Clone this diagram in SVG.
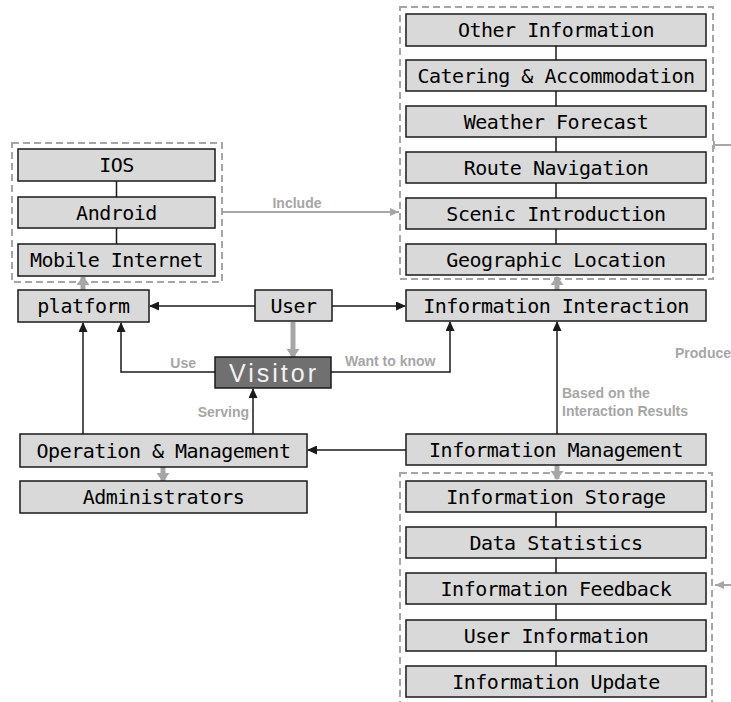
<svg xmlns="http://www.w3.org/2000/svg" width="731" height="702" viewBox="0 0 731 702">
  <style>
    .box { fill: #d9d9d9; stroke: #1a1a1a; stroke-width: 1.5; }
    .dark { fill: #707070; stroke: #1a1a1a; stroke-width: 1.5; }
    .grp { fill: none; stroke: #a6a6a6; stroke-width: 2; stroke-dasharray: 7 4; }
    .t { font-family: "DejaVu Sans Mono", "Liberation Mono", monospace; font-size: 20px; letter-spacing: -0.5px; fill: #000; text-anchor: middle; }
    .tv { font-family: "Liberation Sans", Arial, sans-serif; font-size: 25px; fill: #f2f2f2; text-anchor: middle; letter-spacing: 3px; }
    .lbl { font-family: "Liberation Sans", Arial, sans-serif; font-size: 14px; font-weight: bold; fill: #a6a6a6; }
    .ln { fill: none; stroke: #1a1a1a; stroke-width: 1.5; }
    .arr { fill: none; stroke: #1a1a1a; stroke-width: 1.5; marker-end: url(#ah); }
    .garr { fill: none; stroke: #a6a6a6; stroke-width: 5; marker-end: url(#gah); }
    .gthin { fill: none; stroke: #a6a6a6; stroke-width: 2; }
  </style>
  <defs>
    <marker id="ah" markerUnits="userSpaceOnUse" markerWidth="10" markerHeight="9" refX="9" refY="4.5" orient="auto">
      <path d="M0,0 L10,4.5 L0,9 z" fill="#1a1a1a"/>
    </marker>
    <marker id="gah" markerUnits="userSpaceOnUse" markerWidth="9" markerHeight="13" refX="8" refY="6.5" orient="auto">
      <path d="M0,0 L9,6.5 L0,13 z" fill="#a6a6a6"/>
    </marker>
    <marker id="gthinah" markerUnits="userSpaceOnUse" markerWidth="10" markerHeight="10" refX="9" refY="5" orient="auto">
      <path d="M0,1 L9,5 L0,9 z" fill="#a6a6a6"/>
    </marker>
  </defs>

  <!-- dashed groupings -->
  <g id="groups">
    <rect class="grp" x="12" y="143" width="210" height="139"/>
    <rect class="grp" x="400" y="7" width="313" height="272"/>
    <rect class="grp" x="400" y="473" width="312" height="240"/>
  </g>

  <!-- connectors -->
  <g id="connectors">
    <!-- stack links -->
    <path class="ln" d="M116.5,181 V197 M116.5,228 V244"/>
    <path class="ln" d="M556,46 V60 M556,91 V106 M556,137 V152 M556,183 V198 M556,229 V244"/>
    <path class="ln" d="M556,512 V527 M556,558 V573 M556,604 V620 M556,651 V666"/>
    <!-- black arrows -->
    <path class="arr" d="M255,306 H150"/>
    <path class="arr" d="M332,306 H405"/>
    <path class="arr" d="M215,372 H121 V323"/>
    <path class="arr" d="M83,434 V323"/>
    <path class="arr" d="M331,372 H450 V322"/>
    <path class="arr" d="M253,434 V389"/>
    <path class="arr" d="M406,450 H308"/>
    <path class="arr" d="M557,434 V322"/>
    <!-- thick grey arrows -->
    <path class="garr" d="M293,322 V357"/>
    <path class="garr" d="M83,290 V277"/>
    <path class="garr" d="M557,290 V277"/>
    <path class="garr" d="M557,465 V479"/>
    <path class="garr" d="M163,467 V481"/>
    <!-- thin grey links -->
    <path class="gthin" d="M223,212 H399" marker-end="url(#gthinah)"/>
    <path class="gthin" d="M731,145 H714 M714,141 V149"/>
    <path class="gthin" d="M731,585 H715" marker-end="url(#gthinah)"/>
    <!-- connector labels -->
    <text class="lbl" x="297" y="208" text-anchor="middle">Include</text>
    <text class="lbl" x="196" y="368" text-anchor="end">Use</text>
    <text class="lbl" x="345" y="366">Want to know</text>
    <text class="lbl" x="249" y="417" text-anchor="end">Serving</text>
    <text class="lbl" x="562" y="398">Based on the</text>
    <text class="lbl" x="562" y="416">Interaction Results</text>
    <text class="lbl" x="675" y="358">Produce</text>
  </g>

  <!-- platform side -->
  <g id="ios"><rect class="box" x="18" y="149" width="197" height="32"/><text class="t" x="116.5" y="172">IOS</text></g>
  <g id="android"><rect class="box" x="18" y="197" width="197" height="31"/><text class="t" x="116.5" y="219.5">Android</text></g>
  <g id="mobile-internet"><rect class="box" x="18" y="244" width="197" height="32"/><text class="t" x="116.5" y="267">Mobile Internet</text></g>
  <g id="platform"><rect class="box" x="18" y="290" width="131" height="32"/><text class="t" x="83.5" y="313">platform</text></g>
  <g id="user"><rect class="box" x="255" y="290" width="77" height="31"/><text class="t" x="293.5" y="312.5">User</text></g>
  <g id="visitor"><rect class="dark" x="215" y="357" width="116" height="31"/><text class="tv" x="274" y="381.5">Visitor</text></g>
  <g id="operation"><rect class="box" x="20" y="434" width="287" height="33"/><text class="t" x="163.5" y="457.5">Operation &amp; Management</text></g>
  <g id="administrators"><rect class="box" x="20" y="481" width="287" height="32"/><text class="t" x="163.5" y="504">Administrators</text></g>

  <!-- information content -->
  <g id="other-info"><rect class="box" x="406" y="14" width="300" height="32"/><text class="t" x="556" y="37">Other Information</text></g>
  <g id="catering"><rect class="box" x="406" y="60" width="300" height="31"/><text class="t" x="556" y="82.5">Catering &amp; Accommodation</text></g>
  <g id="weather"><rect class="box" x="406" y="106" width="300" height="31"/><text class="t" x="556" y="128.5">Weather Forecast</text></g>
  <g id="route"><rect class="box" x="406" y="152" width="300" height="31"/><text class="t" x="556" y="174.5">Route Navigation</text></g>
  <g id="scenic"><rect class="box" x="406" y="198" width="300" height="31"/><text class="t" x="556" y="220.5">Scenic Introduction</text></g>
  <g id="geographic"><rect class="box" x="406" y="244" width="300" height="31"/><text class="t" x="556" y="266.5">Geographic Location</text></g>
  <g id="info-interaction"><rect class="box" x="406" y="290" width="300" height="31"/><text class="t" x="556" y="312.5">Information Interaction</text></g>
  <g id="info-management"><rect class="box" x="406" y="434" width="300" height="31"/><text class="t" x="556" y="456.5">Information Management</text></g>

  <!-- information records -->
  <g id="info-storage"><rect class="box" x="406" y="481" width="300" height="31"/><text class="t" x="556" y="503.5">Information Storage</text></g>
  <g id="data-statistics"><rect class="box" x="406" y="527" width="300" height="31"/><text class="t" x="556" y="549.5">Data Statistics</text></g>
  <g id="info-feedback"><rect class="box" x="406" y="573" width="300" height="31"/><text class="t" x="556" y="595.5">Information Feedback</text></g>
  <g id="user-info"><rect class="box" x="406" y="620" width="300" height="31"/><text class="t" x="556" y="642.5">User Information</text></g>
  <g id="info-update"><rect class="box" x="406" y="666" width="300" height="31"/><text class="t" x="556" y="688.5">Information Update</text></g>
</svg>
